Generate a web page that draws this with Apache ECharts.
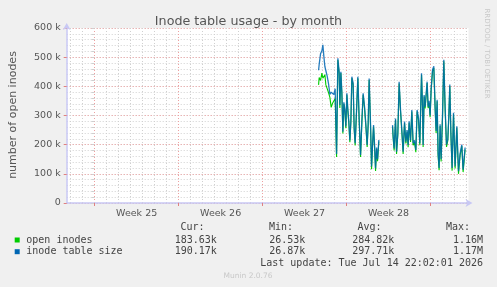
<!DOCTYPE html>
<html><head><meta charset="utf-8">
<script src="https://cdn.jsdelivr.net/npm/echarts@6/dist/echarts.min.js"></script>
<style>html,body{margin:0;padding:0;background:#f0f0f0}#c{width:497px;height:287px}</style>
</head><body><div id="c"></div>
<script>
// time in hours since the start of Week 25 (Monday 00:00)
const hours = [448,449.2,452,454.6,456.6,458.6,460.6,462.6,465.2,468,470.6,473.2,476,478.6,481.2,484,
486.6,489.2,490.6,492.6,494.6,496.6,498.6,500.6,502.6,504.6,506.6,508.6,510.6,512.6,514.6,517.2,519.2,521.2,524,526.6,529.2,532,534.6,537.2,540,542.6,545.2,547.2,549.2,552,554,556,558,560,562,564,566,568.6,
580,
596,597.2,599.2,602,604,606.6,609.2,612,614.6,617.2,620,622.6,625.2,627.2,629.2,632,634.6,637.2,640,642.6,645.2,648,650.6,654,656,657.2,659.2,661.2,663.2,665.2,667.2,669.2,671.2,673.2,676,678.6,681.2,683.2,685.2,687.2,689.2,691.2,693.2,696,698.6,701.2,704,706.6,708.6,710.6,712.6,715.2,718,721.2,724.6,728,731.2,734.6,737.2,741.2];
const inodeTableSize = [455000,475000,512000,522000,542000,502000,468000,470000,435000,408000,372000,380000,383000,372000,392000,168000,
496000,450000,336000,450000,380000,244000,345000,320000,262000,376000,320000,279000,215000,280000,433000,410000,260000,205000,320000,433000,290000,165000,280000,376000,330000,270000,199000,270000,427000,270000,125000,200000,267000,200000,119000,190000,150000,216000,
null,
267000,230000,187000,290000,176000,240000,416000,320000,250000,176000,279000,210000,250000,199000,280000,215000,319000,205000,215000,182000,319000,290000,205000,445000,330000,199000,370000,330000,325000,416000,330000,350000,300000,390000,457000,469000,330000,247000,354000,170000,120000,270000,150000,300000,491000,330000,200000,220000,300000,406000,250000,120000,309000,126000,263000,109000,170000,200000,114000,190170];
const openInodes = [405000,430000,420000,445000,428000,432000,440000,405000,392000,378000,362000,328000,342000,347000,358000,158000,
490000,444000,326000,446000,374000,238000,340000,314000,256000,371000,314000,272000,208000,276000,428000,404000,254000,197000,315000,428000,284000,158000,275000,371000,324000,264000,192000,265000,422000,263000,116000,195000,262000,193000,110000,185000,143000,211000,
null,
262000,224000,180000,285000,168000,234000,410000,314000,244000,168000,274000,204000,245000,191000,275000,209000,314000,198000,209000,174000,314000,284000,198000,440000,324000,192000,365000,324000,320000,411000,325000,344000,294000,385000,452000,463000,324000,240000,349000,162000,112000,264000,142000,295000,486000,324000,192000,214000,295000,401000,244000,111000,304000,118000,258000,100000,164000,195000,106000,183630];

const weekLabels = ['Week 25','Week 26','Week 27','Week 28'];
const yTickValues = [0,100000,200000,300000,400000,500000,600000];
const seriesNames = ['open inodes','inode table size'];
const seriesColors = ['#00cc00','#0066b3'];
const curVals = ['183.63k','190.17k'];
const minVals = ['26.53k','26.87k'];
const avgVals = ['284.82k','297.71k'];
const maxVals = ['1.16M','1.17M'];
const lastUpdate = 'Last update: Tue Jul 14 22:02:01 2026';

const X_MIN = -56, X_MAX = 748, SLOT = 2;
const cats = [];
for (let h = X_MIN; h <= X_MAX; h += SLOT) cats.push(String(h));
const hourOf = i => X_MIN + SLOT * i;
const isDay = i => hourOf(i) % 24 === 0 && hourOf(i) % 168 !== 0;
const isWeek = i => hourOf(i) >= 0 && hourOf(i) % 168 === 0;
const isWeekMid = i => hourOf(i) >= 0 && hourOf(i) % 168 === 84;

const toPairs = vals => hours.map((h, k) => [h, vals[k] == null ? '-' : vals[k]]);

const chart = echarts.init(document.getElementById('c'), null, {renderer: 'canvas'});
const FONT = 'DejaVu Sans';
const MONO = 'DejaVu Sans Mono';
const minorGray = '#d0d0d0';
const majorRed = '#eea0a0';
const axisCol = '#c8c8f4';

const legendGraphics = [];
const hdrY = 227.7, rowY = [240, 251.7];
[['Cur:',204.5],['Min:',293],['Avg:',381.5],['Max:',470]].forEach(([t,x]) => {
  legendGraphics.push({type:'text', x:x, y:hdrY, style:{text:t, font:'10px ' + MONO, fill:'#444', align:'right', verticalAlign:'middle'}});
});
seriesNames.forEach((n, r) => {
  legendGraphics.push({type:'rect', shape:{x:14.7, y:rowY[r]-2.5, width:5, height:5}, style:{fill:seriesColors[r]}});
  legendGraphics.push({type:'text', x:26.3, y:rowY[r], style:{text:n, font:'10px ' + MONO, fill:'#444', align:'left', verticalAlign:'middle'}});
  [[curVals,216.8],[minVals,305.3],[avgVals,394.3],[maxVals,483]].forEach(([arr,x]) => {
    legendGraphics.push({type:'text', x:x, y:rowY[r], style:{text:arr[r], font:'10px ' + MONO, fill:'#444', align:'right', verticalAlign:'middle'}});
  });
});
legendGraphics.push({type:'text', x:483, y:263.3, style:{text:lastUpdate, font:'10px ' + MONO, fill:'#444', align:'right', verticalAlign:'middle'}});
legendGraphics.push({type:'text', x:248, y:276.3, style:{text:'Munin 2.0.76', font:'7.5px ' + FONT, fill:'#c8c8c8', align:'center', verticalAlign:'middle'}});
legendGraphics.push({type:'text', x:13, y:115, rotation:Math.PI/2, style:{text:'number of open inodes', font:'11px ' + FONT, fill:'#555', align:'center', verticalAlign:'middle'}});
legendGraphics.push({type:'text', x:487, y:53.5, rotation:-Math.PI/2, style:{text:'RRDTOOL / TOBI OETIKER', font:'7px ' + FONT, fill:'#c8c8c8', align:'center', verticalAlign:'middle'}});

chart.setOption({
  animation: false,
  backgroundColor: '#f0f0f0',
  title: {text:'Inode table usage - by month', left:'center', top:10,
    textStyle:{fontFamily:FONT, fontSize:12.7, fontWeight:'normal', color:'#555'}},
  grid: {left:66.7, right:28.5, top:28, bottom:84, show:true, backgroundColor:'#ffffff', borderWidth:0, containLabel:false},
  xAxis: [
    {type:'category', position:'bottom', data:cats, boundaryGap:false,
      axisLine:{show:false}, axisTick:{show:false},
      axisLabel:{interval:(i)=>isWeekMid(i), formatter:(v)=>weekLabels[(Number(v)-84)/168] || '',
        color:'#555', fontFamily:FONT, fontSize:9.5, margin:6},
      splitLine:{show:true, interval:(i)=>isDay(i), lineStyle:{color:minorGray, width:1, type:[1,2]}}},
    {type:'category', position:'bottom', data:cats, boundaryGap:false,
      axisLine:{show:false}, axisLabel:{show:false},
      axisTick:{show:true, interval:(i)=>isWeek(i), length:3, lineStyle:{color:'#e08080'}},
      splitLine:{show:true, interval:(i)=>isWeek(i), lineStyle:{color:majorRed, width:1, type:[1,2]}}},
    {type:'value', position:'bottom', min:X_MIN, max:X_MAX,
      axisLine:{show:true, symbol:['none','arrow'], symbolSize:[6,7], symbolOffset:[0,4], lineStyle:{color:axisCol, width:1.5}},
      axisTick:{show:false}, axisLabel:{show:false}, splitLine:{show:false}}
  ],
  yAxis: [
    {type:'value', position:'left', min:0, max:600000, interval:20000,
      axisLine:{show:false}, axisTick:{show:true, length:3, lineStyle:{color:minorGray}}, axisLabel:{show:false},
      splitLine:{show:true, lineStyle:{color:minorGray, width:1, type:[1,2]}}},
    {type:'value', position:'left', min:0, max:600000, interval:100000,
      axisLine:{show:true, symbol:['none','arrow'], symbolSize:[6,7], symbolOffset:[0,5], lineStyle:{color:axisCol, width:1.5}},
      axisTick:{show:true, length:3, lineStyle:{color:'#e08080'}},
      axisLabel:{color:'#555', fontFamily:FONT, fontSize:9.5, margin:6,
        formatter:(v)=> yTickValues.includes(v) ? (v === 0 ? '0' : (v/1000) + ' k') : ''},
      splitLine:{show:true, lineStyle:{color:majorRed, width:1, type:[1,2]}}}
  ],
  series: [
    {name:seriesNames[0], type:'line', xAxisIndex:2, yAxisIndex:1, data:toPairs(openInodes),
      showSymbol:false, connectNulls:false, lineStyle:{color:seriesColors[0], width:1.1}},
    {name:seriesNames[1], type:'line', xAxisIndex:2, yAxisIndex:1, data:toPairs(inodeTableSize),
      showSymbol:false, connectNulls:false, lineStyle:{color:seriesColors[1], width:1.3, opacity:0.85}}
  ],
  graphic: legendGraphics
});
</script></body></html>
